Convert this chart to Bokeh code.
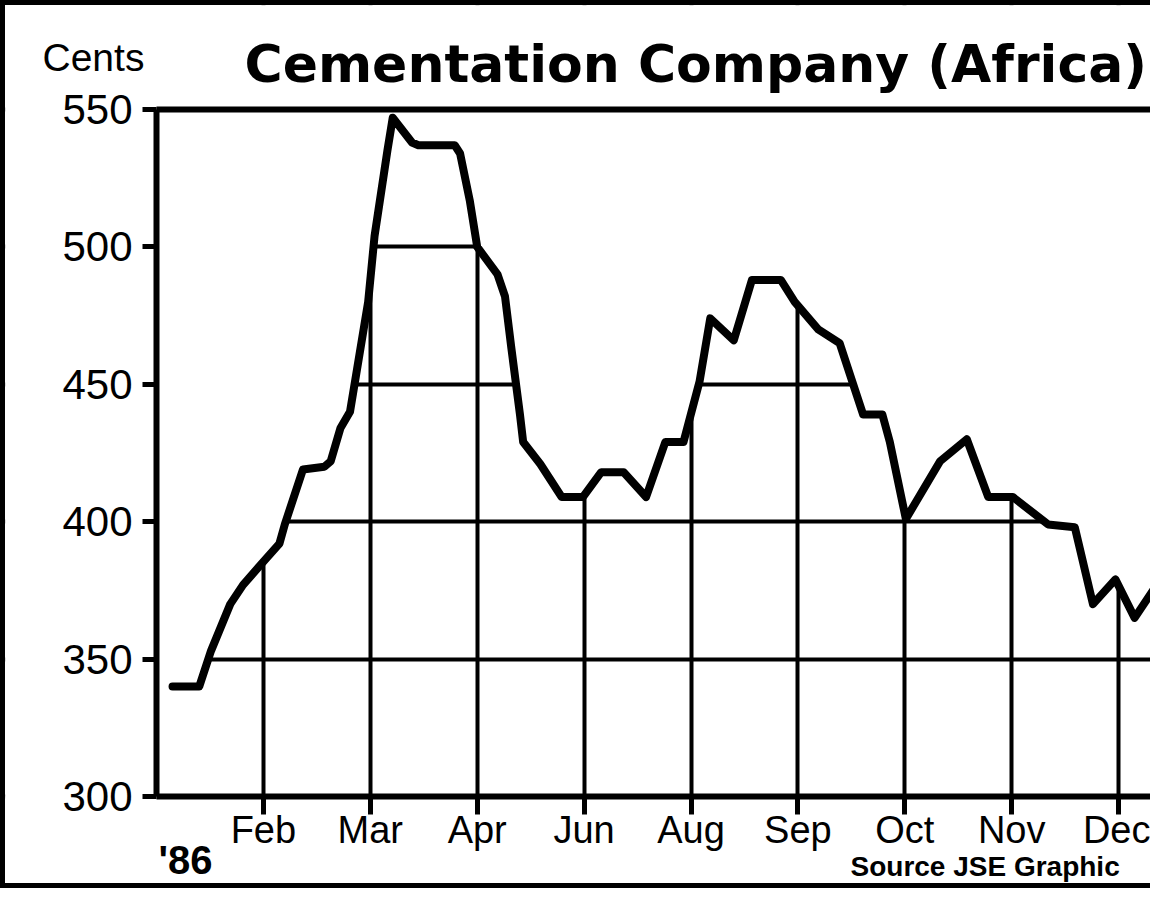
from bokeh.plotting import figure
from bokeh.models import Range1d, LinearAxis, FixedTicker, Label
from bokeh.embed import file_html
from bokeh.resources import INLINE

# ---------------- data ----------------
title_text = "Cementation Company (Africa)"
unit_text = "Cents"
year_text = "'86"
source_text = "Source  JSE  Graphic"

tick_pos = [1, 2, 3, 4, 5, 6, 7, 8, 9]
tick_labels = ["Feb", "Mar", "Apr", "Jun", "Aug", "Sep", "Oct", "Nov", "Dec"]
y_ticks = [300, 350, 400, 450, 500, 550]

period = [0.15, 0.40, 0.51, 0.69, 0.81, 0.99, 1.15, 1.20, 1.37, 1.57,
          1.63, 1.72, 1.81, 1.98, 2.04, 2.16, 2.21, 2.39, 2.45, 2.79,
          2.84, 2.93, 3.00, 3.19, 3.26, 3.32, 3.40, 3.43, 3.59, 3.79,
          3.99, 4.16, 4.37, 4.58, 4.76, 4.93, 5.08, 5.18, 5.40, 5.57,
          5.84, 5.97, 6.19, 6.39, 6.61, 6.79, 6.86, 7.01, 7.33, 7.58,
          7.78, 8.01, 8.34, 8.59, 8.76, 8.97, 9.15, 9.39]
price = [340, 340, 353, 370, 377, 385, 392, 399, 419, 420,
         422, 434, 440, 480, 504, 535, 547, 538, 537, 537,
         534, 517, 500, 490, 482, 463, 439, 429, 421, 409,
         409, 418, 418, 409, 429, 429, 451, 474, 466, 488,
         488, 480, 470, 465, 439, 439, 429, 401, 422, 430,
         409, 409, 399, 398, 370, 379, 365, 379]

# ---------------- layout (pixels) ----------------
W, H = 1150, 888          # canvas size
BORDER = 5                # css border of the page frame
AX_LEFT, AX_TOP = 151, 104  # canvas position of the (0, 550) corner
PX_U, PX_V = 106.9, 2.748   # pixels per x unit / per cent
Y_LO, Y_HI = 300, 550

x_start = -AX_LEFT / PX_U
x_end = (W - AX_LEFT) / PX_U
y_end = Y_HI + AX_TOP / PX_V
y_start = Y_HI - (H - AX_TOP) / PX_V


def ux(px):   # page pixel -> x data
    return (px - BORDER - AX_LEFT) / PX_U


def vy(py, size=0):   # page pixel (text baseline) -> y data
    return Y_HI + (AX_TOP - (py - 0.39 * size - BORDER)) / PX_V


p = figure(width=W, height=H, output_backend="svg", toolbar_location=None,
           x_range=Range1d(x_start, x_end), y_range=Range1d(y_start, y_end),
           min_border=0, min_border_left=0, min_border_right=0,
           min_border_top=0, min_border_bottom=0)
p.styles = {"border-left": "5px solid black", "border-top": "5px solid black",
            "border-bottom": "5px solid black"}
p.title.text = ""
p.title.visible = False
p.outline_line_color = None
p.background_fill_color = "white"
p.border_fill_color = "white"

# grid: drawn everywhere, then hidden above the curve and outside the plot box
p.xgrid.ticker = FixedTicker(ticks=tick_pos)
p.ygrid.ticker = FixedTicker(ticks=y_ticks)
for g in (p.xgrid, p.ygrid):
    g.grid_line_color = "black"
    g.grid_line_width = 4
    g.grid_line_alpha = 1.0

cover_x = [0] + period + [x_end + 1]
cover_y = [price[0]] + price + [price[-1]]
p.varea(x=cover_x, y1=cover_y, y2=[y_end + 1] * len(cover_x),
        fill_color="white", fill_alpha=1.0)
# outside the plot box: left strip and bottom strip
p.quad(left=[x_start - 1, x_start - 1], right=[0, x_end + 1],
       bottom=[y_start - 1, y_start - 1], top=[y_end + 1, Y_LO],
       fill_color="white", line_color=None)

p.line(period, price, line_color="black", line_width=8, line_join="round",
       line_cap="round")

# axes, pinned to the plot box
p.yaxis.fixed_location = 0
p.yaxis.bounds = (Y_LO, Y_HI)
p.yaxis.ticker = FixedTicker(ticks=y_ticks)
p.yaxis.axis_line_width = 6
p.yaxis.major_tick_line_width = 5
p.yaxis.major_tick_out = 14
p.yaxis.major_tick_in = 0
p.yaxis.minor_tick_line_color = None
p.yaxis.major_label_standoff = 10
p.yaxis.major_label_text_font = "Liberation Sans"
p.yaxis.major_label_text_font_size = "42px"
p.yaxis.major_label_text_color = "black"

p.xaxis.fixed_location = Y_LO
p.xaxis.bounds = (0, x_end)
p.xaxis.ticker = FixedTicker(ticks=tick_pos)
p.xaxis.major_label_overrides = {t: l for t, l in zip(tick_pos, tick_labels)}
p.xaxis.axis_line_width = 6
p.xaxis.major_tick_line_width = 5
p.xaxis.major_tick_out = 18
p.xaxis.major_tick_in = 0
p.xaxis.minor_tick_line_color = None
p.xaxis.major_label_standoff = -6
p.xaxis.major_label_text_font = "Liberation Sans"
p.xaxis.major_label_text_font_size = "38px"
p.xaxis.major_label_text_color = "black"

top = LinearAxis(ticker=FixedTicker(ticks=[]), axis_line_width=6,
                 fixed_location=Y_HI, bounds=(0, x_end),
                 major_tick_line_color=None, minor_tick_line_color=None,
                 major_label_text_font_size="0px")
p.add_layout(top, "above")

# texts
p.add_layout(Label(x=ux(244), y=vy(84, 52), text=title_text, text_font="DejaVu Sans",
                   text_font_style="bold", text_font_size="52px",
                   text_baseline="alphabetic", text_align="left", text_color="black"))
p.add_layout(Label(x=ux(42), y=vy(72, 39), text=unit_text, text_font="Liberation Sans",
                   text_font_size="39px", text_baseline="alphabetic",
                   text_align="left", text_color="black"))
p.add_layout(Label(x=ux(158), y=vy(875, 40), text=year_text, text_font="Liberation Sans",
                   text_font_style="bold", text_font_size="40px",
                   text_baseline="alphabetic", text_align="left", text_color="black"))
p.add_layout(Label(x=ux(850), y=vy(877, 28), text=source_text, text_font="Liberation Sans",
                   text_font_style="bold", text_font_size="28px",
                   text_baseline="alphabetic", text_align="left", text_color="black"))

open("out.html", "w").write(file_html(p, INLINE))
